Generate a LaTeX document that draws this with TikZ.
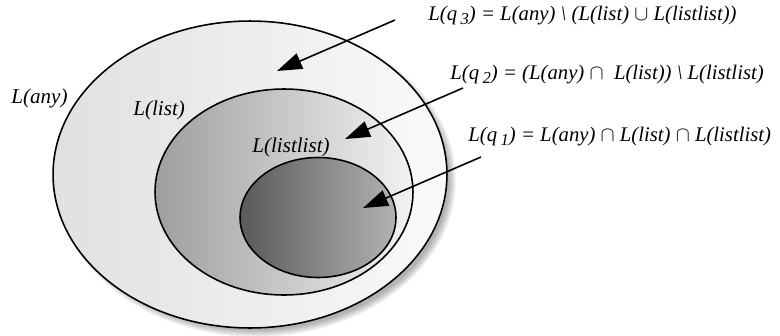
\documentclass[tikz,border=0pt]{standalone}
\usepackage{fontspec}
\setmainfont{Liberation Serif}
\usetikzlibrary{arrows.meta, shapes.geometric}

\newcommand{\stateno}[1]{\,\raisebox{-0.45ex}{\fontsize{9.5}{10}\selectfont #1}}

\tikzset{
  setbox/.style={ellipse, draw=black, line width=0.9pt, inner sep=0pt},
  lang/.style={font=\fontsize{12}{15}\selectfont\itshape, inner sep=0pt, anchor=base west},
  statelang/.style={font=\fontsize{11.8}{14}\selectfont\itshape, inner sep=0pt, anchor=base west},
  pointer/.style={line width=0.9pt, -{Triangle[length=5mm, width=3.3mm]}}
}

\begin{document}
\begin{tikzpicture}[x=0.02cm, y=-0.02cm]
  \useasboundingbox (0,0) rectangle (780,335);
  % Soft shadows under the three sets
  \foreach \k in {0,...,7}
    \fill[black, opacity=0.045] (256,180) ellipse ({193+\k} and {150+\k});
  \foreach \k in {0,...,5}
    \fill[black, opacity=0.04] (288,197) ellipse ({126+\k} and {100+\k});
  \foreach \k in {0,...,4}
    \fill[black, opacity=0.04] (321,220) ellipse ({76+\k} and {58+\k});
  % Nested sets
  \node[setbox, left color=black!12, right color=black!2,
        minimum width=7.88cm, minimum height=6.14cm] (any) at (250,174.5) {};
  \node[setbox, left color=black!38, right color=black!5,
        minimum width=5.16cm, minimum height=4.12cm] (list) at (284,192) {};
  \node[setbox, left color=black!65, right color=black!30,
        minimum width=3.12cm, minimum height=2.40cm] (listlist) at (318,217.5) {};
  % Set names
  \node[lang] (anyname) at (11,103) {L(any)};
  \node[lang] (listname) at (133,115) {L(list)};
  \node[lang] (listlistname) at (252,152) {L(listlist)};
  % State languages
  \node[statelang] (q3) at (428,20.5)
    {L(q\stateno{3}) = L(any) \textbackslash\ (L(list) $\cup$ L(listlist))};
  \node[statelang] (q2) at (450,79.5)
    {L(q\stateno{2}) = (L(any) $\cap$\ \ L(list)) \textbackslash\ L(listlist)};
  \node[statelang] (q1) at (468,141.5)
    {L(q\stateno{1}) = L(any) $\cap$ L(list) $\cap$ L(listlist)};
  % Pointers into the regions
  \coordinate (q3from) at (395,20);
  \coordinate (q3to) at (277,71);
  \coordinate (q2from) at (463,88);
  \coordinate (q2to) at (345,139);
  \coordinate (q1from) at (481,157);
  \coordinate (q1to) at (363,208);
  \draw[pointer] (q3from) -- (q3to);
  \draw[pointer] (q2from) -- (q2to);
  \draw[pointer] (q1from) -- (q1to);
\end{tikzpicture}
\end{document}
